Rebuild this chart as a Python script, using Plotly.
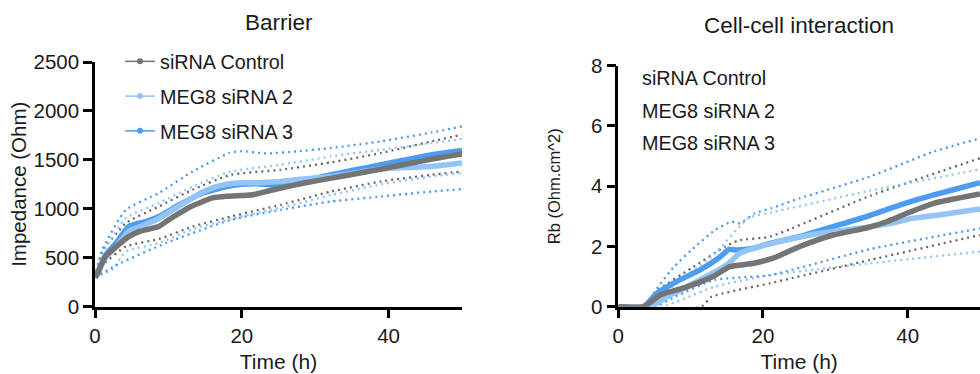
import plotly.graph_objects as go

# ---------------- DATA ----------------
series_names = ["siRNA Control", "MEG8 siRNA 2", "MEG8 siRNA 3"]

# Barrier (Impedance, Ohm) - mean curves
bar_ctrl_t = [0, 0.3, 1.4, 3, 4.6, 6, 6.9, 8.7, 10, 11.5, 13, 14.7, 16, 17.9, 20, 21.5, 23, 25.3, 28, 32.2, 35, 39, 42, 45.9, 48, 50]
bar_ctrl_v = [300, 330, 511, 620, 715, 765, 784, 818, 885, 955, 1020, 1074, 1110, 1128, 1135, 1142, 1170, 1211, 1255, 1313, 1350, 1405, 1450, 1508, 1535, 1559]

bar_si2_t = [0, 0.3, 1.4, 3, 4.6, 6.9, 8.7, 11.5, 14.7, 16.5, 17.9, 20, 22, 25.3, 28, 32.2, 35, 39, 42, 45.9, 48, 50]
bar_si2_v = [300, 330, 500, 620, 770, 840, 900, 1030, 1170, 1225, 1250, 1265, 1265, 1279, 1300, 1330, 1360, 1405, 1420, 1432, 1450, 1467]

bar_si3_t = [0, 0.3, 1.4, 3, 4.6, 6.9, 8.7, 11.5, 14.7, 17.9, 20, 22, 25.3, 28, 32.2, 35, 39, 42, 45.9, 48, 50]
bar_si3_v = [300, 340, 520, 660, 818, 869, 920, 1040, 1160, 1227, 1250, 1255, 1240, 1280, 1347, 1390, 1450, 1495, 1552, 1575, 1596]

# Barrier - dotted spread lines (upper / lower)
bar_ctrl_up_t = [0, 1, 4.2, 8.7, 13.3, 18.5, 25.3, 32.2, 39, 45.9, 50]
bar_ctrl_up_v = [300, 560, 852, 1023, 1194, 1347, 1398, 1474, 1570, 1689, 1757]
bar_ctrl_lo_t = [0, 1, 4.2, 8.7, 13.3, 18.5, 25.3, 32.2, 39, 45.9, 50]
bar_ctrl_lo_v = [300, 420, 613, 690, 818, 920, 1040, 1176, 1279, 1347, 1381]

bar_si2_up_t = [0, 1, 4.2, 8.7, 13.3, 18.5, 25.3, 32.2, 39, 45.9, 50]
bar_si2_up_v = [300, 540, 904, 1058, 1227, 1380, 1450, 1535, 1603, 1672, 1713]
bar_si2_lo_t = [0, 2.3, 4.2, 8.7, 13.3, 18.5, 25.3, 32.2, 39, 45.9, 50]
bar_si2_lo_v = [300, 374, 560, 650, 790, 895, 1010, 1140, 1250, 1330, 1365]

bar_si3_up_t = [0, 1, 4.2, 8.7, 13.3, 18.3, 20, 23.3, 27.6, 32.2, 39, 45.9, 50]
bar_si3_up_v = [300, 580, 988, 1160, 1381, 1570, 1588, 1565, 1587, 1621, 1689, 1780, 1842]
bar_si3_lo_t = [0, 3.5, 9.7, 18.5, 25.3, 32.2, 39, 45.9, 50]
bar_si3_lo_v = [300, 445, 650, 886, 989, 1074, 1125, 1176, 1201]

# Cell-cell interaction (Rb, Ohm.cm^2) - mean curves
rb_ctrl_t = [0, 3.5, 5.8, 9.5, 13.1, 15.4, 18.7, 21.4, 25.1, 29.7, 34.4, 37.1, 39.9, 43.6, 50]
rb_ctrl_v = [0, 0, 0.39, 0.66, 1.0, 1.33, 1.44, 1.61, 2.0, 2.38, 2.62, 2.82, 3.10, 3.43, 3.74]

rb_si2_t = [0, 4.5, 6.7, 11.3, 15, 16.8, 19.6, 23.3, 27.9, 32.5, 37.1, 40.8, 44.5, 50]
rb_si2_v = [0, 0, 0.33, 0.89, 1.39, 1.77, 2.0, 2.22, 2.44, 2.58, 2.74, 2.94, 3.05, 3.24]

rb_si3_t = [0, 3.5, 5.3, 8.5, 11.3, 14.1, 15.3, 16.4, 18.7, 20.5, 25.1, 29.7, 34.4, 39, 43.6, 50]
rb_si3_v = [0, 0, 0.44, 0.89, 1.22, 1.66, 1.9, 1.88, 1.94, 2.07, 2.33, 2.66, 3.0, 3.38, 3.71, 4.12]

# Cell-cell interaction - dotted spread lines
rb_ctrl_up_t = [0, 3.5, 5.5, 10.1, 14.8, 16.6, 21, 34.8, 50]
rb_ctrl_up_v = [0, 0, 0.55, 1.28, 2.0, 2.2, 2.33, 3.68, 4.93]
rb_ctrl_lo_t = [0, 11.5, 12.9, 21, 34.8, 50]
rb_ctrl_lo_v = [0, 0, 0.33, 0.78, 1.55, 2.38]

rb_si2_up_t = [0, 4, 6, 12.9, 18, 21.2, 34.8, 50]
rb_si2_up_v = [0, 0, 0.4, 1.66, 2.94, 3.13, 3.85, 4.56]
rb_si2_lo_t = [0, 6, 13.3, 21, 34.8, 50]
rb_si2_lo_v = [0, 0, 0.66, 1.05, 1.44, 1.83]

rb_si3_up_t = [0, 3.5, 5.5, 7.6, 10.1, 13.4, 15.7, 16.8, 18.9, 21.2, 25.1, 34.8, 43.6, 50]
rb_si3_up_v = [0, 0, 0.66, 1.3, 1.88, 2.55, 2.82, 2.77, 3.1, 3.27, 3.6, 4.32, 5.15, 5.59]
rb_si3_lo_t = [0, 5, 8, 13.3, 21, 34.8, 50]
rb_si3_lo_v = [0, 0, 0.35, 0.89, 1.05, 1.91, 2.6]

x_ticks = [0, 20, 40]
bar_y_ticks = [0, 500, 1000, 1500, 2000, 2500]
rb_y_ticks = [0, 2, 4, 6, 8]

# ---------------- STYLE ----------------
GRAY = "#747474"
LIGHT = "#93c4f6"
BLUE = "#4d9cf2"
DOT_GRAY = "#686868"
DOT_LIGHT = "#92c3f6"
DOT_BLUE = "#4a99f0"
FONT = "Liberation Sans, Arial, sans-serif"
TXT = "#1a1a1a"

fig = go.Figure()


def dotted(t, v, color, xa, ya):
    fig.add_trace(go.Scatter(x=t, y=v, mode="lines", xaxis=xa, yaxis=ya,
                             line=dict(color=color, width=2.3, dash="2px,4px", shape="spline", smoothing=0.5),
                             showlegend=False, hoverinfo="skip"))


def mean(t, v, color, xa, ya):
    fig.add_trace(go.Scatter(x=t, y=v, mode="lines", xaxis=xa, yaxis=ya,
                             line=dict(color=color, width=5.5, shape="spline", smoothing=0.5),
                             showlegend=False, hoverinfo="skip"))


# Barrier panel
dotted(bar_ctrl_up_t, bar_ctrl_up_v, DOT_GRAY, "x", "y")
dotted(bar_ctrl_lo_t, bar_ctrl_lo_v, DOT_GRAY, "x", "y")
dotted(bar_si2_up_t, bar_si2_up_v, DOT_LIGHT, "x", "y")
dotted(bar_si2_lo_t, bar_si2_lo_v, DOT_LIGHT, "x", "y")
dotted(bar_si3_up_t, bar_si3_up_v, DOT_BLUE, "x", "y")
dotted(bar_si3_lo_t, bar_si3_lo_v, DOT_BLUE, "x", "y")
mean(bar_si3_t, bar_si3_v, BLUE, "x", "y")
mean(bar_si2_t, bar_si2_v, LIGHT, "x", "y")
mean(bar_ctrl_t, bar_ctrl_v, GRAY, "x", "y")

# Cell-cell panel
dotted(rb_ctrl_up_t, rb_ctrl_up_v, DOT_GRAY, "x2", "y2")
dotted(rb_ctrl_lo_t, rb_ctrl_lo_v, DOT_GRAY, "x2", "y2")
dotted(rb_si2_up_t, rb_si2_up_v, DOT_LIGHT, "x2", "y2")
dotted(rb_si2_lo_t, rb_si2_lo_v, DOT_LIGHT, "x2", "y2")
dotted(rb_si3_up_t, rb_si3_up_v, DOT_BLUE, "x2", "y2")
dotted(rb_si3_lo_t, rb_si3_lo_v, DOT_BLUE, "x2", "y2")
mean(rb_si3_t, rb_si3_v, BLUE, "x2", "y2")
mean(rb_si2_t, rb_si2_v, LIGHT, "x2", "y2")
mean(rb_ctrl_t, rb_ctrl_v, GRAY, "x2", "y2")

# Legend entries (left panel)
for i, (name, col) in enumerate(zip(series_names, [GRAY, LIGHT, BLUE])):
    fig.add_trace(go.Scatter(x=[None], y=[None], mode="lines+markers", name=name,
                             legendgroup="g%d" % i,
                             line=dict(color=col, width=1.5), marker=dict(color=col, size=6)))

axis_common = dict(showline=True, linewidth=2.5, linecolor="black", ticks="outside", ticklen=9,
                   tickwidth=2.5, tickcolor="black", showgrid=False, zeroline=False, automargin=False,
                   tickfont=dict(size=20.5, color=TXT, family=FONT))

fig.update_layout(
    width=980, height=374, margin=dict(l=0, r=0, t=0, b=0, pad=0),
    plot_bgcolor="white", paper_bgcolor="white",
    font=dict(family=FONT, color=TXT),
    xaxis=dict(domain=[95 / 980, 462 / 980], range=[0, 50], tickvals=x_ticks, anchor="y",
               title=dict(text="Time (h)", font=dict(size=21), standoff=9), **axis_common),
    yaxis=dict(domain=[67.5 / 374, 312 / 374], range=[0, 2500], tickvals=bar_y_ticks, anchor="x",
               title=dict(text="Impedance (Ohm)", font=dict(size=20.5), standoff=2), **axis_common),
    xaxis2=dict(domain=[618.3 / 980, 1.0], range=[0, 50], tickvals=x_ticks, anchor="y2",
                title=dict(text="Time (h)", font=dict(size=21), standoff=9), **axis_common),
    yaxis2=dict(domain=[67.3 / 374, 308.3 / 374], range=[0, 8], tickvals=rb_y_ticks, anchor="x2",
                title=dict(text="Rb (Ohm.cm^2)", font=dict(size=16.5), standoff=27), **axis_common),
    legend=dict(x=120 / 980, y=(374 - 42) / 374, xanchor="left", yanchor="top",
                font=dict(size=19.8, color=TXT), bgcolor="rgba(0,0,0,0)",
                traceorder="grouped", tracegroupgap=6),
    annotations=[
        dict(text="Barrier", x=279 / 980, y=(374 - 22) / 374, xref="paper", yref="paper",
             showarrow=False, font=dict(size=22.5, color=TXT), xanchor="center", yanchor="middle"),
        dict(text="Cell-cell interaction", x=799 / 980, y=(374 - 25) / 374, xref="paper", yref="paper",
             showarrow=False, font=dict(size=22.5, color=TXT), xanchor="center", yanchor="middle"),
    ] + [
        dict(text=name, x=640 / 980, y=(374 - yy) / 374, xref="paper", yref="paper",
             showarrow=False, font=dict(size=19.8, color=TXT), xanchor="left", yanchor="middle")
        for name, yy in zip(series_names, [78, 111, 143])
    ],
)

fig.write_html("out.html")
